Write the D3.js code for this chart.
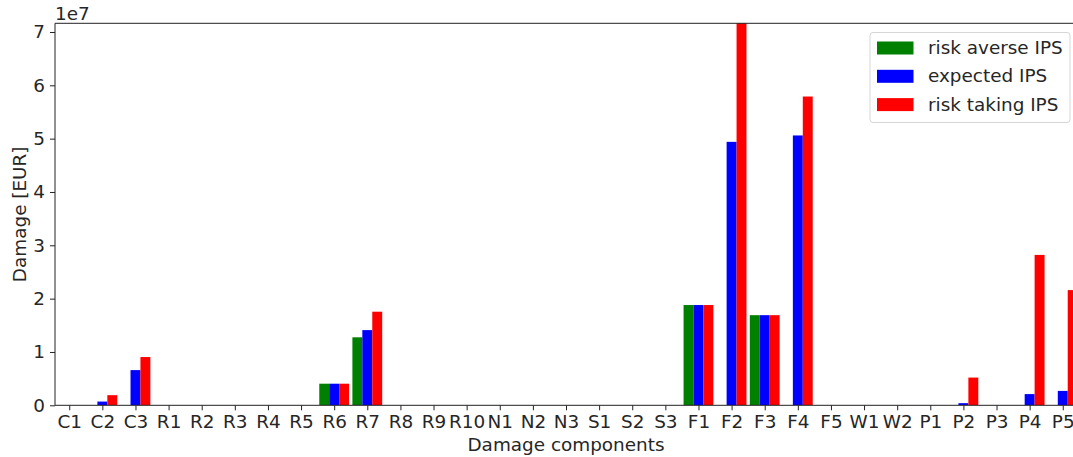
<!DOCTYPE html>
<html>
<head>
<meta charset="utf-8">
<script src="https://cdn.jsdelivr.net/npm/d3@7"></script>
<style>
  html, body { margin: 0; padding: 0; background: #fff; }
  svg { display: block; font-family: "DejaVu Sans", sans-serif; }
</style>
</head>
<body>
<svg id="chart" width="1073" height="457"></svg>
<script>
const categories = ["C1","C2","C3","R1","R2","R3","R4","R5","R6","R7","R8","R9","R10",
  "N1","N2","N3","S1","S2","S3","F1","F2","F3","F4","F5","W1","W2","P1","P2","P3","P4","P5"];
const seriesNames = ["risk averse IPS", "expected IPS", "risk taking IPS"];
const riskAverse = [0,0,0,0,0,0,0,0,4.05e6,12.75e6,0,0,0,
  0,0,0,0,0,0,18.8e6,0,16.9e6,0,0,0,0,0,0,0,0,0];
const expected = [0,0.7e6,6.6e6,0,0,0,0,0,4.05e6,14.1e6,0,0,0,
  0,0,0,0,0,0,18.8e6,49.4e6,16.9e6,50.6e6,0,0,0,0,0.4e6,0,2.1e6,2.7e6];
const riskTaking = [0,1.9e6,9.05e6,0,0,0,0,0,4.05e6,17.55e6,0,0,0,
  0,0,0,0,0,0,18.8e6,72.5e6,16.9e6,57.9e6,0,0,0,0,5.2e6,0,28.2e6,21.6e6];
const yTicks = [0,1e7,2e7,3e7,4e7,5e7,6e7,7e7];
const yMax = 7.163e7;

const colors = ["#008000", "#0000ff", "#ff0000"];
const series = [riskAverse, expected, riskTaking];

const svg = d3.select("#chart");
const mLeft = 55, mTop = 23.3, mRight = 1077, mBottom = 405.3;
const fs = 18.4;
const textColor = "#262626";

const x = d3.scaleLinear().domain([-0.43, categories.length - 1 + 0.43]).range([mLeft, mRight]);
const y = d3.scaleLinear().domain([0, yMax]).range([mBottom, mTop]);
const step = x(1) - x(0);
const bw = step * 0.3;

svg.append("defs").append("clipPath").attr("id", "plotclip")
  .append("rect").attr("x", mLeft).attr("y", mTop).attr("width", mRight - mLeft).attr("height", mBottom - mTop);

const plot = svg.append("g").attr("clip-path", "url(#plotclip)");
series.forEach((vals, s) => {
  plot.append("g").selectAll("rect").data(vals.map((v, i) => ({v, i})))
    .join("rect")
    .attr("x", d => x(d.i) + (s - 1) * bw - bw / 2)
    .attr("width", bw)
    .attr("y", d => y(d.v))
    .attr("height", d => Math.max(0, y(0) - y(d.v)))
    .attr("fill", colors[s]);
});

// axes
const xAxis = d3.axisBottom(x).tickValues(d3.range(categories.length))
  .tickFormat(i => categories[i]).tickSize(5).tickPadding(4);
const gx = svg.append("g").attr("transform", `translate(0,${mBottom})`).call(xAxis);
gx.select(".domain").remove();
gx.selectAll("line").attr("stroke", "#222").attr("stroke-width", 1);
gx.selectAll("text").attr("font-size", fs).attr("fill", textColor)
  .attr("font-family", "DejaVu Sans, sans-serif").attr("dy", "0.73em");

const yAxis = d3.axisLeft(y).tickValues(yTicks).tickFormat(v => d3.format("d")(v / 1e7))
  .tickSize(5).tickPadding(5);
const gy = svg.append("g").attr("transform", `translate(${mLeft},0)`).call(yAxis);
gy.select(".domain").remove();
gy.selectAll("line").attr("stroke", "#222").attr("stroke-width", 1);
gy.selectAll("text").attr("font-size", fs).attr("fill", textColor)
  .attr("font-family", "DejaVu Sans, sans-serif");

// spines
const spine = svg.append("g").attr("stroke", "#222").attr("stroke-width", 1).attr("fill", "none");
spine.append("line").attr("x1", mLeft).attr("x2", mLeft).attr("y1", mTop).attr("y2", mBottom);
spine.append("line").attr("x1", mLeft).attr("x2", mRight).attr("y1", mTop).attr("y2", mTop);
spine.append("line").attr("x1", mLeft).attr("x2", mRight).attr("y1", mBottom).attr("y2", mBottom);
spine.append("line").attr("x1", mRight).attr("x2", mRight).attr("y1", mTop).attr("y2", mBottom);

// offset text
svg.append("text").attr("x", mLeft).attr("y", 19.5).attr("font-size", fs)
  .attr("fill", textColor).text("1e7");

// axis labels
svg.append("text").attr("x", (mLeft + mRight) / 2).attr("y", 451)
  .attr("text-anchor", "middle").attr("font-size", fs).attr("fill", textColor)
  .text("Damage components");
svg.append("text").attr("transform", `translate(25.5,${(mTop + mBottom) / 2}) rotate(-90)`)
  .attr("text-anchor", "middle").attr("font-size", fs).attr("fill", textColor)
  .text("Damage [EUR]");

// legend
const lg = svg.append("g").attr("transform", "translate(870,32.5)");
lg.append("rect").attr("width", 200).attr("height", 90).attr("rx", 3)
  .attr("fill", "#fff").attr("fill-opacity", 0.8).attr("stroke", "#d6d6d6").attr("stroke-width", 1);
seriesNames.forEach((name, i) => {
  const row = lg.append("g").attr("transform", `translate(0,${9 + i * 28.3})`);
  row.append("rect").attr("x", 7).attr("y", 0).attr("width", 36.5).attr("height", 13).attr("fill", colors[i]);
  row.append("text").attr("x", 58).attr("y", 12.5).attr("font-size", fs).attr("fill", textColor).text(name);
});
</script>
</body>
</html>
